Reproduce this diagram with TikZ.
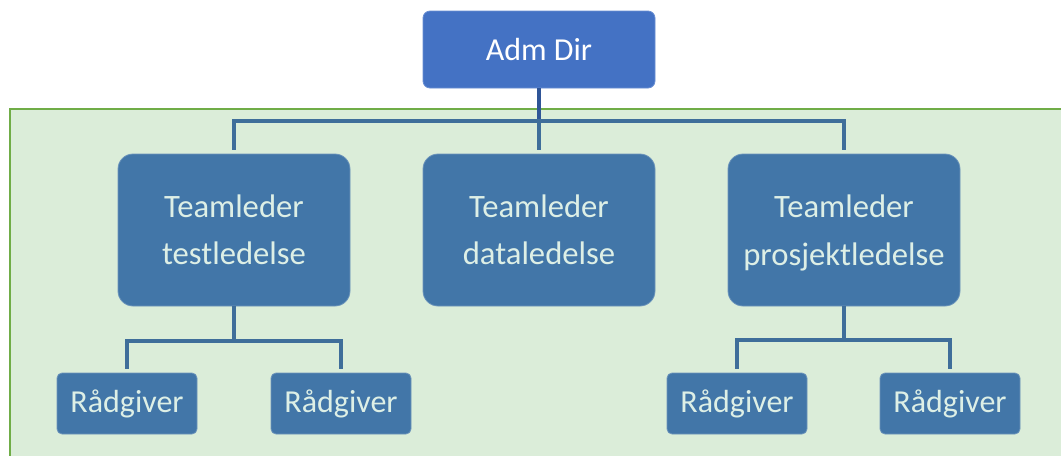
\documentclass[tikz,border=0pt]{standalone}
\usepackage{fontspec}
\setmainfont{Carlito}
\definecolor{admfill}{HTML}{4472C4}
\definecolor{admedge}{HTML}{6A8FD3}
\definecolor{boxfill}{HTML}{4276A8}
\definecolor{boxedge}{HTML}{6D95BB}
\definecolor{boxtext}{HTML}{DDEFE6}
\definecolor{bgfill}{HTML}{DBEDD9}
\definecolor{bgedge}{HTML}{70AD47}
\definecolor{linecol}{HTML}{3F6E9A}
\definecolor{topline}{HTML}{2F5597}
\tikzset{
  admbox/.style={draw=admedge, line width=0.6pt, fill=admfill, rounded corners=5.25pt,
    minimum width=174pt, minimum height=57.75pt, inner sep=0pt, text=white,
    font=\fontsize{24}{35}\selectfont},
  leadbox/.style={draw=boxedge, line width=0.6pt, fill=boxfill, rounded corners=11.25pt,
    minimum width=174pt, minimum height=114pt, inner sep=0pt, text=boxtext, align=center,
    font=\fontsize{24.5}{35.5}\selectfont},
  advbox/.style={draw=boxedge, line width=0.6pt, fill=boxfill, rounded corners=3.75pt,
    minimum width=105pt, minimum height=45.75pt, inner sep=0pt, text=boxtext,
    font=\fontsize{24}{35}\selectfont},
  conn/.style={draw=linecol, line width=2.4pt},
}
\begin{document}
\begin{tikzpicture}[x=0.75pt,y=-0.75pt]
\clip (0,0) rectangle (1061,455);
\fill[white] (0,0) rectangle (1061,455);
\draw[fill=bgfill, draw=bgedge, line width=1.2pt] (10,109) rectangle (1080,475);
\node[admbox] (adm) at (539,49.5) {Adm Dir};
\node[leadbox] (tl1) at (234,230) {Teamleder\\testledelse};
\node[leadbox] (tl2) at (539,230) {Teamleder\\dataledelse};
\node[leadbox] (tl3) at (844,230) {Teamleder\\\smash{prosjektledelse}};
\node[advbox] (r1) at (127,403.5) {Rådgiver};
\node[advbox] (r2) at (341,403.5) {Rådgiver};
\node[advbox] (r3) at (737,403.5) {Rådgiver};
\node[advbox] (r4) at (950,403.5) {Rådgiver};
\coordinate (j0) at (539,121);
\coordinate (j1) at (234,341);
\coordinate (j2) at (844,340);
\draw[draw=topline, line width=2.4pt] (adm.south) -- (j0);
\draw[conn] (j0) -- ([yshift=3]tl2.north);
\draw[conn] ([yshift=3]tl1.north) |- (j0) -| ([yshift=3]tl3.north);
\draw[conn] (tl1.south) -- (j1);
\draw[conn] ([yshift=3]r1.north) |- (j1) -| ([yshift=3]r2.north);
\draw[conn] (tl3.south) -- (j2);
\draw[conn] ([yshift=3]r3.north) |- (j2) -| ([yshift=3]r4.north);
\end{tikzpicture}
\end{document}
